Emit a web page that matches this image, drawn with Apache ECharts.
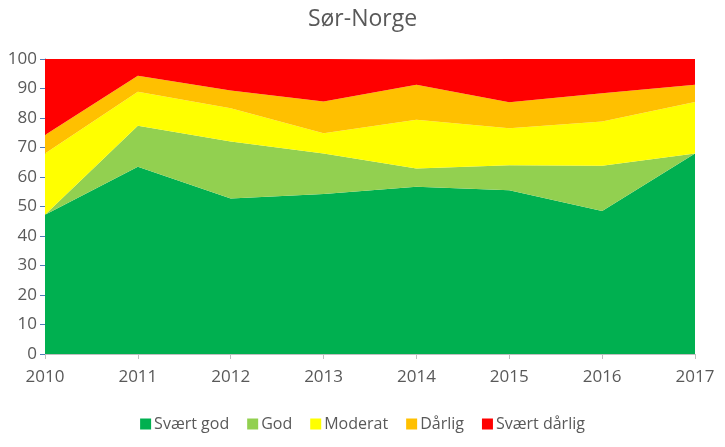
<!DOCTYPE html>
<html>
<head>
<meta charset="utf-8">
<script src="https://cdn.jsdelivr.net/npm/echarts@6/dist/echarts.min.js"></script>
<style>
html,body{margin:0;padding:0;background:#fff;}
#c{width:725px;height:447px;}
</style>
</head>
<body>
<div id="c"></div>
<script>
var years = ['2010','2011','2012','2013','2014','2015','2016','2017'];
var svaertGod = [47.2, 63.5, 52.7, 54.2, 56.7, 55.5, 48.5, 68.0];
var god = [0, 13.9, 19.3, 13.8, 6.2, 8.5, 15.3, 0];
var moderat = [20.8, 11.5, 11.3, 6.8, 16.5, 12.5, 15.0, 17.4];
var darlig = [6.2, 5.4, 6.0, 10.8, 11.9, 8.8, 9.6, 5.9];
var svaertDarlig = [25.8, 5.7, 10.7, 14.4, 8.5, 14.7, 11.6, 8.7];
var seriesNames = ['Svært god','God','Moderat','Dårlig','Svært dårlig'];
var seriesData = [svaertGod, god, moderat, darlig, svaertDarlig];
var colors = ['#00B050','#92D050','#FFFF00','#FFC000','#FF0000'];

var font = '"Open Sans", sans-serif';
var chart = echarts.init(document.getElementById('c'));
chart.setOption({
  animation: false,
  color: colors,
  title: {
    text: 'Sør-Norge', left: 'center', top: 3,
    textStyle: {fontFamily: font, fontSize: 23, fontWeight: 'normal', color: '#595959'}
  },
  legend: {
    bottom: 10, left: 'center', itemWidth: 11, itemHeight: 11, itemGap: 18,
    icon: 'rect',
    textStyle: {fontFamily: font, fontSize: 16, color: '#595959', padding: [0,0,0,-2]},
    data: seriesNames
  },
  grid: {left: 45, right: 30, top: 59, bottom: 93},
  xAxis: {
    type: 'category', data: years, boundaryGap: false,
    axisLine: {lineStyle: {color: '#BFBFBF'}},
    axisTick: {alignWithLabel: true, length: 5, lineStyle: {color: '#BFBFBF'}},
    axisLabel: {fontFamily: font, fontSize: 17, color: '#595959', margin: 15}
  },
  yAxis: {
    type: 'value', min: 0, max: 100, interval: 10,
    axisLine: {show: true, lineStyle: {color: '#4F7CB8'}},
    axisTick: {show: true, length: 5, lineStyle: {color: '#4F7CB8'}},
    splitLine: {show: false},
    axisLabel: {fontFamily: font, fontSize: 17, color: '#595959', margin: 8}
  },
  series: seriesNames.map(function(n, i){
    return {
      name: n, type: 'line', stack: 'total', data: seriesData[i],
      showSymbol: false, symbol: 'none',
      lineStyle: {width: 0}, areaStyle: {color: colors[i], opacity: 1},
      emphasis: {disabled: true}
    };
  })
});
</script>
</body>
</html>
